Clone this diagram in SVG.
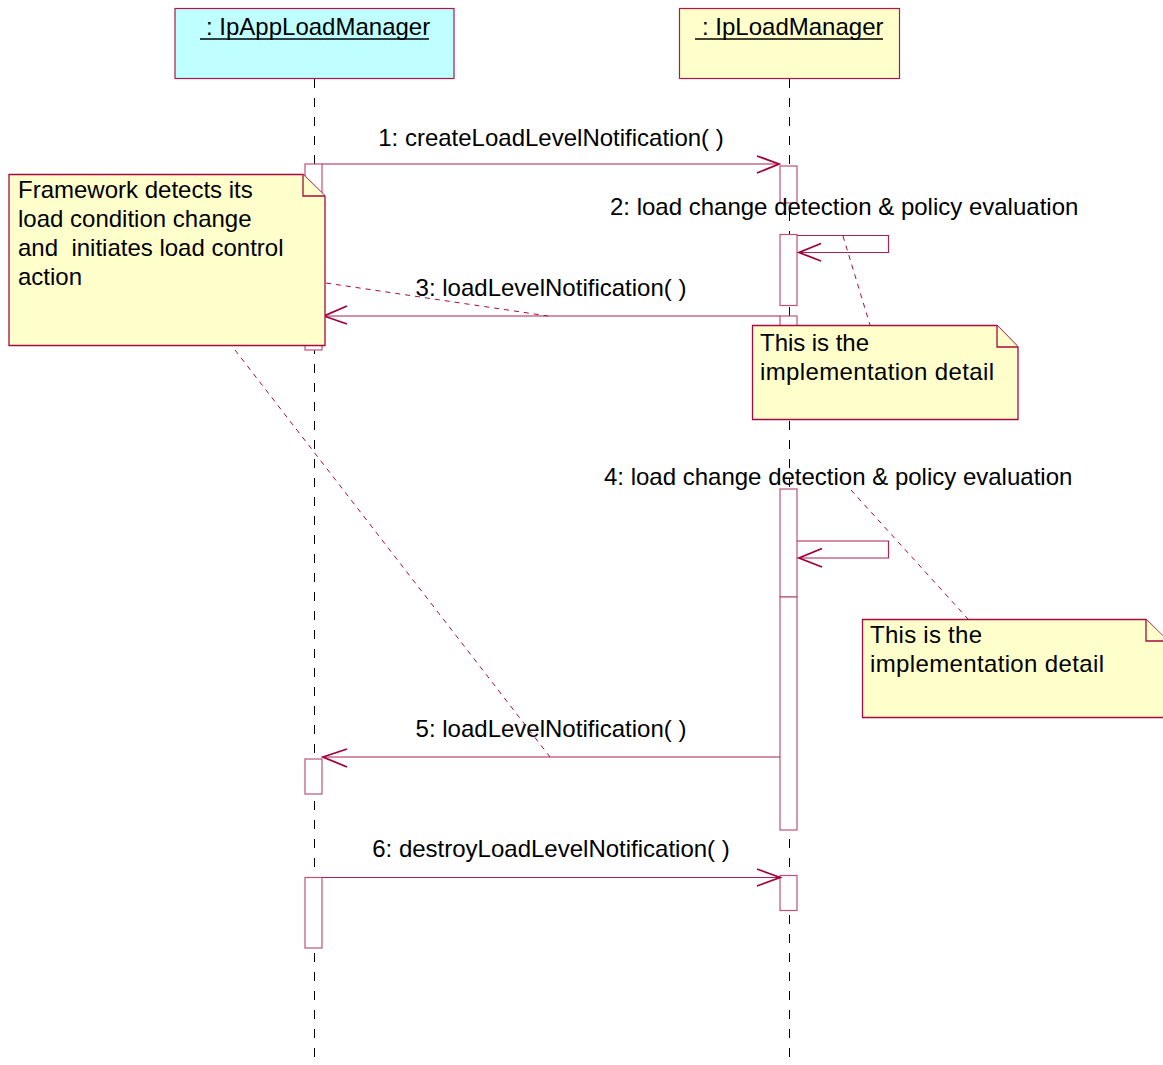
<svg xmlns="http://www.w3.org/2000/svg" width="1163" height="1065" viewBox="0 0 1163 1065">
<style>
text{font-family:"Liberation Sans",Arial,sans-serif;font-size:24px;fill:#000}
.obj{stroke:#B0164A;stroke-width:1.2}
.life{stroke:#000;stroke-width:1;stroke-dasharray:9 10;fill:none}
.bar{fill:#fff;stroke:#C0507A;stroke-width:1.2}
.msg{stroke:#B02050;stroke-width:1.2;fill:none}
.head{stroke:#A0003C;stroke-width:1.8;fill:none}
.note{fill:#FFFFCC;stroke:#A50B3F;stroke-width:1.3}
.link{stroke:#A50B3F;stroke-width:1;stroke-dasharray:5 5;fill:none}
.ul{stroke:#000;stroke-width:1.6}
</style>
<rect width="1163" height="1065" fill="#fff"/>
<g id="lifelines">
<line class="life" x1="314.5" y1="79" x2="314.5" y2="1065"/>
<line class="life" x1="789.5" y1="79" x2="789.5" y2="1065"/>
</g>
<g id="obj-app">
<rect class="obj" x="175" y="8.5" width="279" height="70" fill="#C0FFFF"/>
<text x="206" y="35">: IpAppLoadManager</text>
<line class="ul" x1="200" y1="39" x2="429" y2="39"/>
</g>
<g id="obj-load">
<rect class="obj" x="679.5" y="8.5" width="220" height="70" fill="#FFFFCC"/>
<text x="702" y="35">: IpLoadManager</text>
<line class="ul" x1="695" y1="39" x2="883" y2="39"/>
</g>
<g id="activations">
<rect class="bar" x="305" y="164" width="17" height="186"/>
<rect class="bar" x="305" y="759" width="17" height="35"/>
<rect class="bar" x="305" y="877.5" width="17" height="70.5"/>
<rect class="bar" x="780" y="166" width="17" height="37"/>
<rect class="bar" x="780" y="234.5" width="17" height="71"/>
<rect class="bar" x="780" y="316" width="17" height="34"/>
<rect class="bar" x="780" y="489" width="17" height="108"/>
<rect class="bar" x="780" y="597" width="17" height="233"/>
<rect class="bar" x="780" y="875.5" width="17" height="35"/>
</g>
<g id="connectors">
<line class="msg" x1="322" y1="164" x2="779" y2="164"/>
<polyline class="head" points="757,156 779,164 757,173"/>
<polyline class="msg" points="797,235.5 888.5,235.5 888.5,252.5 799,252.5"/>
<polyline class="head" points="821,243.5 799,252.5 821,261"/>
<line class="msg" x1="780" y1="316" x2="324" y2="316"/>
<polyline class="head" points="347,306 324,316 347,324"/>
<polyline class="msg" points="797,541 888.5,541 888.5,558 799,558"/>
<polyline class="head" points="822,548.5 799,558 822,567"/>
<line class="msg" x1="780" y1="757" x2="323" y2="757"/>
<polyline class="head" points="347,749 323,757 347,767"/>
<line class="msg" x1="322" y1="877.5" x2="780" y2="877.5"/>
<polyline class="head" points="757,869 780,877.5 757,886"/>
<text x="551" y="146" text-anchor="middle">1: createLoadLevelNotification( )</text>
<text x="610" y="215">2: load change detection &amp; policy evaluation</text>
<text x="551" y="296" text-anchor="middle">3: loadLevelNotification( )</text>
<text x="604" y="485">4: load change detection &amp; policy evaluation</text>
<text x="551" y="737" text-anchor="middle">5: loadLevelNotification( )</text>
<text x="551" y="857" text-anchor="middle">6: destroyLoadLevelNotification( )</text>
</g>
<g id="note-framework">
<path class="note" d="M9,174.5 H303 L325,196 V345.5 H9 Z"/>
<path class="note" d="M303,174.5 V196 H325"/>
<text x="18" y="198">Framework detects its</text>
<text x="18" y="227">load condition change</text>
<text x="18" y="256" style="white-space:pre">and  initiates load control</text>
<text x="18" y="285">action</text>
</g>
<g id="note-impl-1">
<path class="note" d="M752.5,325.5 H997 L1018,347 V419.5 H752.5 Z"/>
<path class="note" d="M997,325.5 V347 H1018"/>
<text x="760" y="351" textLength="109" lengthAdjust="spacing">This is the</text>
<text x="760" y="380" textLength="234" lengthAdjust="spacing">implementation detail</text>
</g>
<g id="note-impl-2">
<path class="note" d="M862.5,619.5 H1146 L1168,641 V717.5 H862.5 Z"/>
<path class="note" d="M1146,619.5 V641 H1168"/>
<text x="870" y="643" textLength="112" lengthAdjust="spacing">This is the</text>
<text x="870" y="672" textLength="234" lengthAdjust="spacing">implementation detail</text>
</g>
<g id="note-links">
<line class="link" x1="326" y1="283" x2="548" y2="316"/>
<line class="link" x1="235" y1="350" x2="550" y2="757"/>
<line class="link" x1="843" y1="236" x2="870" y2="325"/>
<line class="link" x1="851" y1="490" x2="968" y2="619"/>
</g>
</svg>
